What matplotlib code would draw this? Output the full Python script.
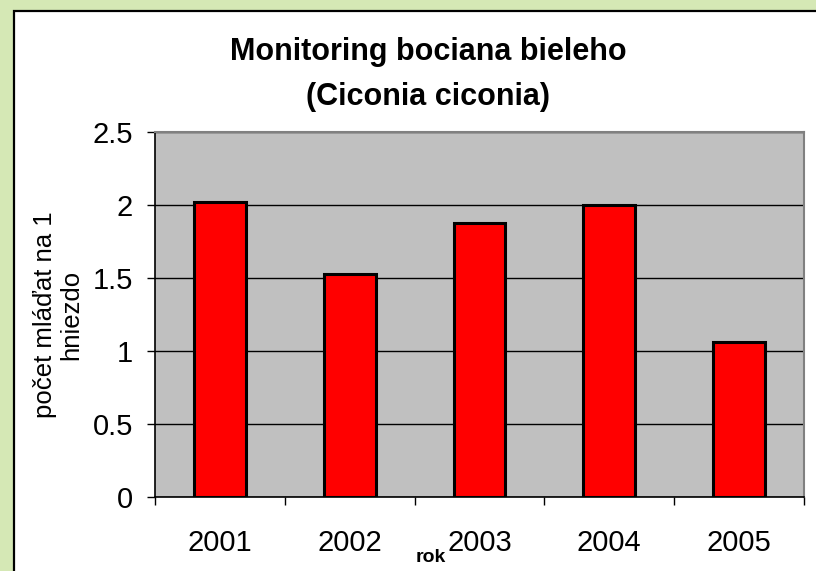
import matplotlib as mpl
mpl.use('Agg')
from matplotlib import pyplot as plt
from matplotlib.patches import Rectangle

# data
years = ['2001', '2002', '2003', '2004', '2005']
mladata = [2.02, 1.53, 1.88, 2.0, 1.06]
y_ticks = [0, 0.5, 1, 1.5, 2, 2.5]

plt.rcParams['font.family'] = ['Liberation Sans', 'DejaVu Sans']

fig = plt.figure(figsize=(8.16, 5.71), dpi=100)
fig.patch.set_facecolor('#d5e8b5')

# white chart frame on the green slide (runs off the right and bottom edges)
frame = Rectangle((14 / 816, -0.01), 1.1, (571 - 11) / 571 + 0.01,
                  transform=fig.transFigure, facecolor='white',
                  edgecolor='black', linewidth=1.6, zorder=-1)
fig.patches.append(frame)

ax = fig.add_axes([155 / 816, (571 - 497) / 571, 649 / 816, (497 - 132) / 571])
ax.set_zorder(2)
ax.set_facecolor('#c0c0c0')

pos = [i + 0.5 for i in range(len(years))]
ax.bar(pos, mladata, width=0.4, color='#ff0000', edgecolor='black',
       linewidth=2.2, zorder=3)

ax.set_xlim(0, len(years))
ax.set_ylim(0, 2.5)
ax.set_yticks(y_ticks)
ax.set_yticklabels(['0', '0.5', '1', '1.5', '2', '2.5'])
ax.yaxis.grid(True, color='black', linewidth=1.0, zorder=1)
ax.set_axisbelow(True)

# boundary ticks, labels centred between them
ax.set_xticks(range(len(years) + 1))
ax.set_xticklabels([])
ax.set_xticks(pos, minor=True)
ax.set_xticklabels(years, minor=True)
ax.tick_params(axis='x', which='major', direction='out', length=6, width=1)
ax.tick_params(axis='x', which='minor', length=0, pad=23, labelsize=21)
ax.tick_params(axis='y', direction='out', length=6, width=1, pad=10, labelsize=21)

for side in ['top', 'right']:
    ax.spines[side].set_color('#808080')
    ax.spines[side].set_linewidth(1.5)
for side in ['left', 'bottom']:
    ax.spines[side].set_color('black')
    ax.spines[side].set_linewidth(1.2)

fig.text(428 / 816, (571 - 52) / 571, 'Monitoring bociana bieleho',
         ha='center', va='center', fontsize=22, fontweight='bold')
fig.text(428 / 816, (571 - 97) / 571, '(Ciconia ciconia)',
         ha='center', va='center', fontsize=22, fontweight='bold')

fig.text(58 / 816, (571 - 315) / 571, 'počet mláďat na 1\nhniezdo',
         rotation=90, ha='center', va='center', multialignment='center',
         fontsize=18.5, linespacing=1.1)

# x-axis title sits between 2002 and 2003
fig.text(431 / 816, (571 - 557) / 571, 'rok', ha='center', va='center',
         fontsize=14, fontweight='bold')

plt.savefig('out.png', dpi=100, facecolor=fig.get_facecolor())
plt.close()
